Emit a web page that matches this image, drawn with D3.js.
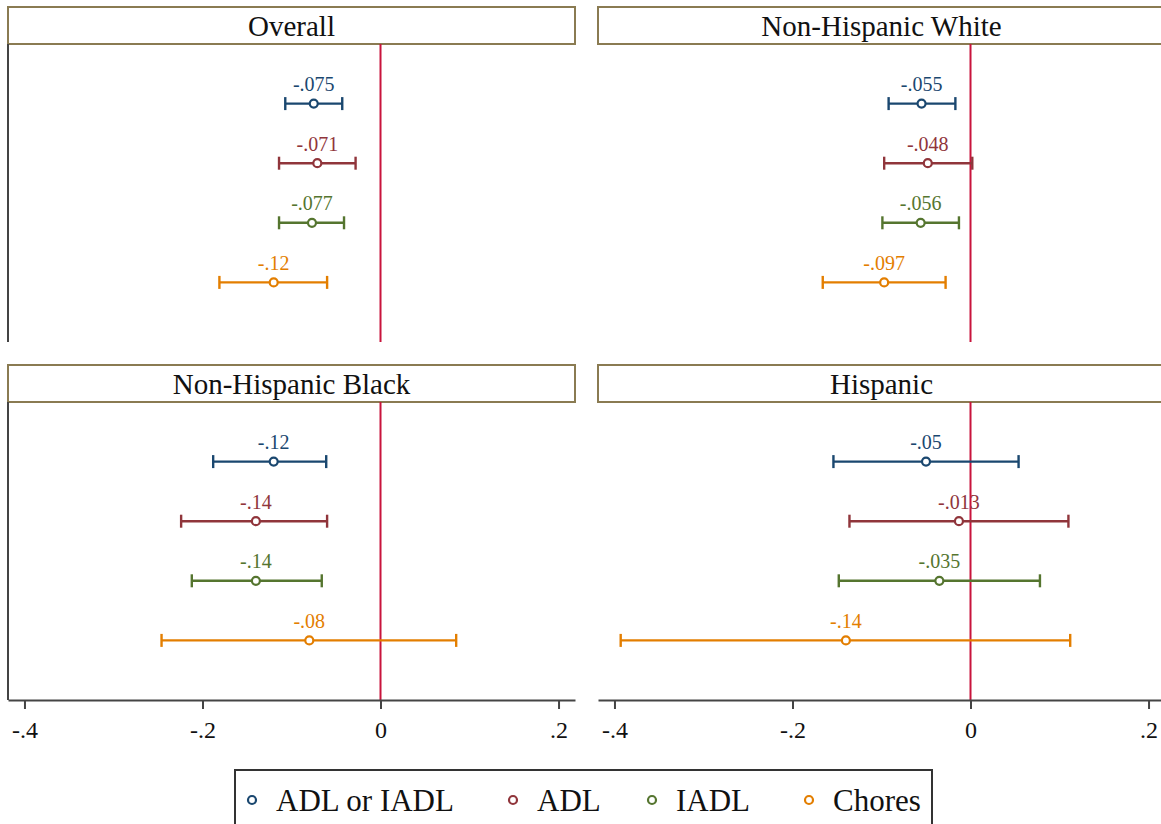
<!DOCTYPE html>
<html>
<head>
<meta charset="utf-8">
<script src="https://cdn.jsdelivr.net/npm/d3@7"></script>
<style>
  html, body { margin: 0; padding: 0; background: #fff; }
  svg { display: block; }
  svg text { font-family: "Liberation Serif", "Tinos", "Times New Roman", Times, "DejaVu Serif", serif; }
</style>
</head>
<body>
<svg id="chart" width="1161" height="824"></svg>
<script>
// Outcomes (one row per outcome within each panel)
const outcomes = ["ADL or IADL", "ADL", "IADL", "Chores"];
const outcomeColors = ["#1a476f", "#90353b", "#55752f", "#e37e00"];

// Panels (population groups)
const groups = ["Overall", "Non-Hispanic White", "Non-Hispanic Black", "Hispanic"];

// Point estimates per group, in outcome order
const estOverall  = [-0.075, -0.071, -0.077, -0.12];
const estWhite    = [-0.055, -0.048, -0.056, -0.097];
const estBlack    = [-0.12,  -0.14,  -0.14,  -0.08];
const estHispanic = [-0.05,  -0.013, -0.035, -0.14];

// Lower confidence bounds
const loOverall  = [-0.107, -0.114, -0.114, -0.181];
const loWhite    = [-0.092, -0.097, -0.099, -0.166];
const loBlack    = [-0.188, -0.224, -0.212, -0.246];
const loHispanic = [-0.154, -0.136, -0.148, -0.393];

// Upper confidence bounds
const hiOverall  = [-0.043, -0.028, -0.041, -0.060];
const hiWhite    = [-0.017,  0.002, -0.013, -0.028];
const hiBlack    = [-0.061, -0.060, -0.066,  0.085];
const hiHispanic = [ 0.054,  0.110,  0.078,  0.112];

// X axis ticks and range
const xTicks = [-0.4, -0.2, 0, 0.2];
const xDomain = [-0.4185, 0.2185];

const estimates = [estOverall, estWhite, estBlack, estHispanic];
const lows = [loOverall, loWhite, loBlack, loHispanic];
const highs = [hiOverall, hiWhite, hiBlack, hiHispanic];

const serif = "'Liberation Serif', 'Tinos', 'Times New Roman', Times, 'DejaVu Serif', serif";

const stataNum = v => {
  if (v === 0) return "0";
  return String(+v.toFixed(4)).replace(/^(-?)0\./, "$1.");
};

const svg = d3.select("#chart");

const panelW = 567, stripH = 37, plotH = 298;
const panelX = [8, 598], panelY = [7, 365];

const x = d3.scaleLinear().domain(xDomain).range([0, panelW]);
const y = d3.scaleLinear().domain([0, outcomes.length + 1]).range([0, plotH]);

groups.forEach((name, gi) => {
  const col = gi % 2, row = Math.floor(gi / 2);
  const g = svg.append("g")
    .attr("transform", `translate(${panelX[col]},${panelY[row]})`);

  // strip header
  g.append("rect")
    .attr("x", 0).attr("y", 0)
    .attr("width", panelW).attr("height", stripH)
    .attr("fill", "#fff")
    .attr("stroke", "#8a7b52").attr("stroke-width", 2);
  g.append("text")
    .attr("x", panelW / 2).attr("y", stripH / 2 + 10)
    .attr("text-anchor", "middle")
    .attr("font-family", serif)
    .attr("font-size", 29).attr("fill", "#111")
    .text(name);

  const plot = g.append("g").attr("transform", `translate(0,${stripH})`);

  // left axis line on the left column
  if (col === 0) {
    plot.append("line")
      .attr("x1", 0).attr("x2", 0)
      .attr("y1", 0).attr("y2", plotH)
      .attr("stroke", "#444").attr("stroke-width", 2);
  }

  // reference line at zero
  plot.append("line")
    .attr("x1", x(0)).attr("x2", x(0))
    .attr("y1", 0).attr("y2", plotH)
    .attr("stroke", "#c8143c").attr("stroke-width", 2);

  const est = estimates[gi], lo = lows[gi], hi = highs[gi];
  outcomes.forEach((o, i) => {
    const c = outcomeColors[i];
    const yy = y(i + 1);
    const bar = plot.append("g");
    bar.append("line")
      .attr("x1", x(lo[i])).attr("x2", x(hi[i]))
      .attr("y1", yy).attr("y2", yy)
      .attr("stroke", c).attr("stroke-width", 2.4);
    [lo[i], hi[i]].forEach(v => {
      bar.append("line")
        .attr("x1", x(v)).attr("x2", x(v))
        .attr("y1", yy - 6.5).attr("y2", yy + 6.5)
        .attr("stroke", c).attr("stroke-width", 2.4);
    });
    bar.append("circle")
      .attr("cx", x(est[i])).attr("cy", yy).attr("r", 4)
      .attr("fill", "#fff").attr("stroke", c).attr("stroke-width", 2.2);
    bar.append("text")
      .attr("x", x(est[i])).attr("y", yy - 12.5)
      .attr("text-anchor", "middle")
      .attr("font-family", serif)
      .attr("font-size", 20).attr("fill", c)
      .text(stataNum(est[i]));
  });

  // bottom axis on the lower row
  if (row === 1) {
    const ax = plot.append("g")
      .attr("transform", `translate(0,${plotH})`)
      .call(d3.axisBottom(x).tickValues(xTicks).tickFormat(stataNum)
        .tickSize(9).tickSizeOuter(0).tickPadding(12));
    ax.select(".domain").attr("stroke", "#444").attr("stroke-width", 2);
    ax.selectAll(".tick line").attr("stroke", "#444").attr("stroke-width", 2);
    ax.selectAll(".tick text")
      .attr("font-family", serif)
      .attr("font-size", 24).attr("fill", "#111");
  }
});

// legend
const legend = svg.append("g").attr("transform", "translate(235,770)");
legend.append("rect")
  .attr("x", 0).attr("y", 0).attr("width", 697).attr("height", 70)
  .attr("fill", "#fff").attr("stroke", "#333").attr("stroke-width", 2);
const legendX = [17, 278, 417, 574];
outcomes.forEach((o, i) => {
  const it = legend.append("g").attr("transform", `translate(${legendX[i]},30)`);
  it.append("circle").attr("cx", 0).attr("cy", 0).attr("r", 4)
    .attr("fill", "#fff").attr("stroke", outcomeColors[i]).attr("stroke-width", 2.2);
  it.append("text").attr("x", 24).attr("y", 11)
    .attr("font-family", serif)
    .attr("font-size", 31).attr("fill", "#111").text(o);
});
</script>
</body>
</html>
